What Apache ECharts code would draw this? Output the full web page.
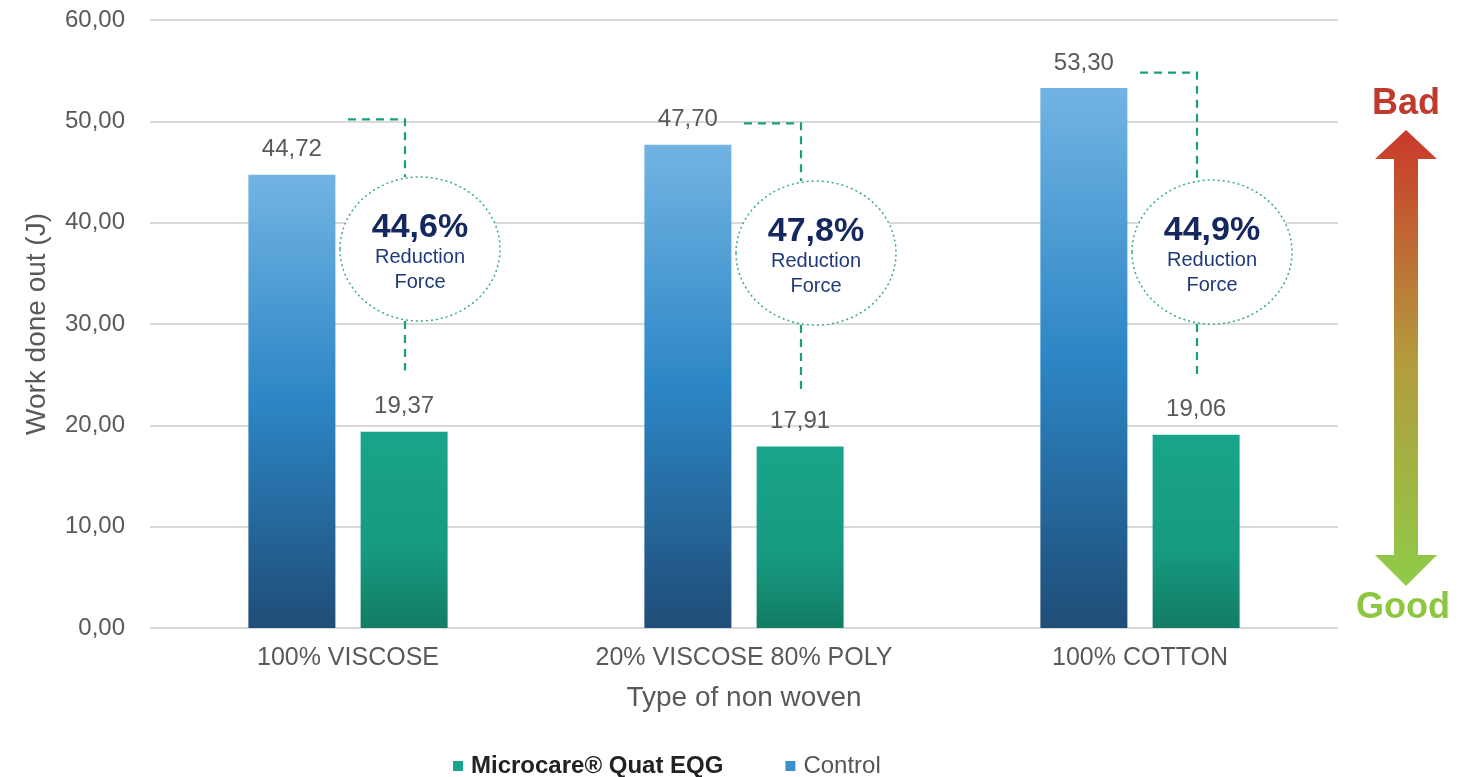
<!DOCTYPE html>
<html><head><meta charset="utf-8">
<script src="https://cdn.jsdelivr.net/npm/echarts@6/dist/echarts.min.js"></script>
<style>html,body{margin:0;padding:0;background:#fff}#c{width:1471px;height:777px}</style>
</head><body><div id="c"></div>
<script>
const categories = ['100% VISCOSE', '20% VISCOSE 80% POLY', '100% COTTON'];
const controlValues = [44.72, 47.70, 53.30];
const microcareValues = [19.37, 17.91, 19.06];
const reductionPct = ['44,6%', '47,8%', '44,9%'];
const bracketTop = [50.2, 49.8, 54.8];
const bracketBottom = [25.4, 23.0, 24.9];
const circleCenter = [37.4, 37.0, 37.1];
const yTicks = [0, 10, 20, 30, 40, 50, 60];

const fmt = v => Number(v).toFixed(2).replace('.', ',');
const FONT = '"Liberation Sans", Arial, sans-serif';

const chart = echarts.init(document.getElementById('c'), null, {renderer: 'canvas'});

const controlGrad = new echarts.graphic.LinearGradient(0, 0, 0, 1, [
  {offset: 0, color: '#72b4e3'},
  {offset: 0.5, color: '#2c86c5'},
  {offset: 1, color: '#1f4d77'}
]);
const microGrad = new echarts.graphic.LinearGradient(0, 0, 0, 1, [
  {offset: 0, color: '#19a58b'},
  {offset: 0.6, color: '#169a80'},
  {offset: 1, color: '#137c65'}
]);

const annData = categories.map((c, i) => [i, bracketTop[i], bracketBottom[i], circleCenter[i]]);

option = {
  animation: false,
  textStyle: {fontFamily: FONT},
  grid: {left: 150, right: 133, top: 20, bottom: 149},
  legend: {
    left: 448, top: 749, itemWidth: 10, itemHeight: 10, itemGap: 62,
    icon: 'rect',
    data: [
      {name: 'Microcare® Quat EQG', itemStyle: {color: '#19a58b'}, textStyle: {fontWeight: 'bold', color: '#222', fontSize: 24, fontFamily: FONT, padding: [0, 0, 0, 3]}},
      {name: 'Control', itemStyle: {color: '#3a8fcd'}, textStyle: {color: '#555', fontSize: 24, fontFamily: FONT, padding: [0, 0, 0, 3]}}
    ]
  },
  xAxis: {
    type: 'category', data: categories,
    axisLine: {show: false}, axisTick: {show: false},
    axisLabel: {color: '#595959', fontSize: 25, margin: 18, fontFamily: FONT},
    name: 'Type of non woven', nameLocation: 'middle', nameGap: 56,
    nameTextStyle: {color: '#595959', fontSize: 28, fontFamily: FONT}
  },
  yAxis: {
    type: 'value', min: yTicks[0], max: yTicks[yTicks.length - 1], interval: 10,
    axisLine: {show: false}, axisTick: {show: false},
    axisLabel: {color: '#595959', fontSize: 24, margin: 25, formatter: v => fmt(v), fontFamily: FONT},
    splitLine: {lineStyle: {color: '#d9d9d9', width: 2}},
    name: 'Work done out (J)', nameLocation: 'middle', nameGap: 99,
    nameTextStyle: {color: '#595959', fontSize: 28, fontFamily: FONT}
  },
  series: [
    {
      name: 'Control', type: 'bar', data: controlValues, barWidth: 87, barGap: '29%',
      itemStyle: {color: controlGrad},
      label: {show: true, position: 'top', distance: 13, color: '#595959', fontSize: 24, formatter: p => fmt(p.value), fontFamily: FONT}
    },
    {
      name: 'Microcare® Quat EQG', type: 'bar', data: microcareValues, barWidth: 87,
      itemStyle: {color: microGrad},
      label: {show: true, position: 'top', distance: 13, color: '#595959', fontSize: 24, formatter: p => fmt(p.value), fontFamily: FONT}
    },
    {
      type: 'custom', name: 'ann', data: annData, silent: true, z: 5,
      renderItem: function (params, api) {
        const i = api.value(0);
        const top = api.coord([i, api.value(1)]);
        const bot = api.coord([i, api.value(2)]);
        const cen = api.coord([i, api.value(3)]);
        const cx = top[0];
        const lx = cx + 57;
        const ex = cx + 72, ey = cen[1], rx = 80, ry = 72;
        const dash = {stroke: '#1a9e80', lineWidth: 2.2, lineDash: [8, 6], fill: null};
        return {
          type: 'group',
          children: [
            {type: 'polyline', shape: {points: [[cx, top[1]], [lx, top[1]], [lx, ey - ry]]}, style: dash},
            {type: 'line', shape: {x1: lx, y1: ey + ry, x2: lx, y2: bot[1]}, style: dash},
            {type: 'ellipse', shape: {cx: ex, cy: ey, rx: rx, ry: ry}, style: {stroke: '#3aa88e', lineWidth: 1.5, lineDash: [2, 3], fill: '#fff'}},
            {type: 'text', x: ex, y: ey - 21, style: {text: reductionPct[params.dataIndex], fill: '#14285f', font: 'bold 34px ' + FONT, align: 'center', verticalAlign: 'middle'}},
            {type: 'text', x: ex, y: ey + 21, style: {text: 'Reduction\nForce', fill: '#1f3a7a', font: '20px ' + FONT, align: 'center', verticalAlign: 'middle', lineHeight: 25}}
          ]
        };
      }
    }
  ],
  graphic: [
    {type: 'text', left: 1372, top: 86, style: {text: 'Bad', fill: '#c0392b', font: 'bold 36px ' + FONT}},
    {type: 'text', left: 1356, top: 590, style: {text: 'Good', fill: '#8dc63f', font: 'bold 36px ' + FONT}},
    {
      type: 'polygon',
      shape: {points: [[1406, 130], [1437, 159], [1418, 159], [1418, 555], [1437, 555], [1406, 586], [1375, 555], [1394, 555], [1394, 159], [1375, 159]]},
      style: {fill: new echarts.graphic.LinearGradient(0, 0, 0, 1, [
        {offset: 0, color: '#c9392a'},
        {offset: 0.5, color: '#b49a3e'},
        {offset: 1, color: '#8fcc48'}
      ])}
    }
  ]
};
chart.setOption(option);
</script></body></html>
